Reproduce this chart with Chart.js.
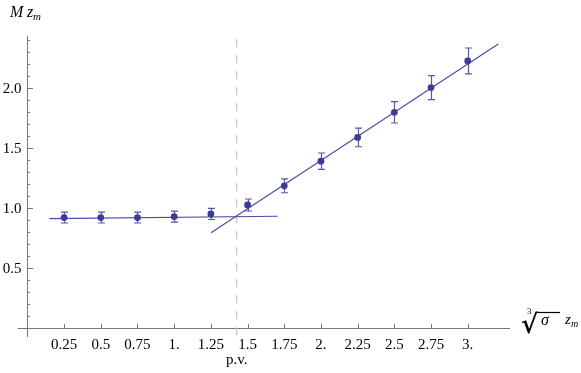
<!DOCTYPE html>
<html>
<head>
<meta charset="utf-8">
<script src="https://cdn.jsdelivr.net/npm/chart.js@4.4.1/dist/chart.umd.min.js"></script>
<style>
html,body{margin:0;padding:0;background:#fff;}
canvas{display:block;}
</style>
</head>
<body>
<canvas id="c" width="581" height="373"></canvas>
<script>
// ---- data ----
const xValues = [0.25, 0.5, 0.75, 1.0, 1.25, 1.5, 1.75, 2.0, 2.25, 2.5, 2.75, 3.0];
const yValues = [0.92, 0.92, 0.92, 0.928, 0.95, 1.025, 1.185, 1.39, 1.588, 1.797, 2.003, 2.225];
const yErrors = [0.045, 0.045, 0.045, 0.046, 0.046, 0.05, 0.058, 0.068, 0.078, 0.089, 0.1, 0.108];
const flatFitX = [0.15, 1.706];
const flatFitY = [0.911, 0.931];
const slopeFitX = [1.251, 3.208];
const slopeFitY = [0.794, 2.367];
const pvX = 1.426;
const pvY = [-0.06, 2.44];
const xTicks = [0.25, 0.5, 0.75, 1.0, 1.25, 1.5, 1.75, 2.0, 2.25, 2.5, 2.75, 3.0];
const xTickLabels = ["0.25", "0.5", "0.75", "1.", "1.25", "1.5", "1.75", "2.", "2.25", "2.5", "2.75", "3."];
const yTicks = [0.5, 1.0, 1.5, 2.0];
const yTickLabels = ["0.5", "1.0", "1.5", "2.0"];
const yMinorTicks = [0.1, 0.2, 0.3, 0.4, 0.6, 0.7, 0.8, 0.9, 1.1, 1.2, 1.3, 1.4, 1.6, 1.7, 1.8, 1.9, 2.1, 2.2, 2.3, 2.4];
const pvLabel = "p.v.";

const pointColor = '#3c3c98';
const lineColor = '#4b4ba8';
const axisColor = '#777777';

const pts = xValues.map((x, i) => ({x: x, y: yValues[i]}));

const axesPlugin = {
  id: 'mmaAxes',
  beforeDatasetsDraw(chart) {
    const ctx = chart.ctx;
    const xs = chart.scales.x, ys = chart.scales.y;
    const x0 = xs.getPixelForValue(0), y0 = ys.getPixelForValue(0);
    ctx.save();
    ctx.strokeStyle = axisColor;
    ctx.lineWidth = 1;
    // axes
    ctx.beginPath();
    ctx.moveTo(xs.left, Math.round(y0) + 0.5);
    ctx.lineTo(xs.right, Math.round(y0) + 0.5);
    ctx.moveTo(Math.round(x0) + 0.5, ys.bottom);
    ctx.lineTo(Math.round(x0) + 0.5, ys.top);
    ctx.stroke();
    // x ticks (inward, upward)
    ctx.beginPath();
    xTicks.forEach(v => {
      const px = Math.round(xs.getPixelForValue(v)) + 0.5;
      ctx.moveTo(px, Math.round(y0));
      ctx.lineTo(px, Math.round(y0) - 4);
    });
    // y ticks
    yTicks.forEach(v => {
      const py = Math.round(ys.getPixelForValue(v)) + 0.5;
      ctx.moveTo(Math.round(x0), py);
      ctx.lineTo(Math.round(x0) + 6, py);
    });
    yMinorTicks.forEach(v => {
      const py = Math.round(ys.getPixelForValue(v)) + 0.5;
      ctx.moveTo(Math.round(x0), py);
      ctx.lineTo(Math.round(x0) + 3, py);
    });
    ctx.stroke();
    // tick labels
    ctx.fillStyle = '#000';
    ctx.font = '15px "Liberation Serif", "Times New Roman", serif';
    ctx.textAlign = 'center';
    ctx.textBaseline = 'middle';
    xTicks.forEach((v, i) => {
      ctx.fillText(xTickLabels[i], xs.getPixelForValue(v), y0 + 17);
    });
    ctx.textAlign = 'right';
    yTicks.forEach((v, i) => {
      ctx.fillText(yTickLabels[i], x0 - 6, ys.getPixelForValue(v) + 1);
    });
    ctx.textAlign = 'center';
    ctx.fillText(pvLabel, xs.getPixelForValue(pvX), y0 + 32);
    // y axis title: M z_m
    ctx.textAlign = 'left';
    ctx.textBaseline = 'alphabetic';
    ctx.font = 'italic 16px "Liberation Serif", serif';
    ctx.fillText('M', 10, 17);
    ctx.fillText('z', 27, 17);
    ctx.font = 'italic 11px "Liberation Serif", serif';
    ctx.fillText('m', 33, 20);
    // x axis title: cube root sigma z_m
    ctx.font = '9px "Liberation Serif", serif';
    ctx.fillText('3', 527, 314);
    ctx.font = 'bold 26px "DejaVu Serif", serif';
    ctx.fillText('\u221A', 521, 333);
    ctx.strokeStyle = '#000';
    ctx.lineWidth = 1.2;
    ctx.beginPath();
    ctx.moveTo(536, 312.5);
    ctx.lineTo(560, 312.5);
    ctx.stroke();
    ctx.font = 'italic 16px "Liberation Serif", serif';
    ctx.fillText('\u03C3', 541, 325);
    ctx.font = 'italic 15px "Liberation Serif", serif';
    ctx.fillText('z', 565, 324);
    ctx.font = 'italic 10px "Liberation Serif", serif';
    ctx.fillText('m', 571, 327);
    // error bars
    ctx.strokeStyle = '#5656aa';
    ctx.lineWidth = 1.2;
    ctx.beginPath();
    xValues.forEach((x, i) => {
      const px = Math.round(xs.getPixelForValue(x)) + 0.5;
      const pt = ys.getPixelForValue(yValues[i] + yErrors[i]);
      const pb = ys.getPixelForValue(yValues[i] - yErrors[i]);
      ctx.moveTo(px, pt); ctx.lineTo(px, pb);
      ctx.moveTo(px - 3.5, pt); ctx.lineTo(px + 3.5, pt);
      ctx.moveTo(px - 3.5, pb); ctx.lineTo(px + 3.5, pb);
    });
    ctx.stroke();
    ctx.restore();
  }
};

new Chart(document.getElementById('c'), {
  type: 'scatter',
  data: {
    datasets: [
      {
        label: 'data',
        data: pts,
        pointRadius: 3.4,
        pointBackgroundColor: pointColor,
        pointBorderColor: pointColor,
        pointBorderWidth: 0,
        showLine: false
      },
      {
        label: 'flat fit',
        data: flatFitX.map((x, i) => ({x: x, y: flatFitY[i]})),
        showLine: true,
        borderColor: lineColor,
        borderWidth: 1.2,
        pointRadius: 0
      },
      {
        label: 'linear fit',
        data: slopeFitX.map((x, i) => ({x: x, y: slopeFitY[i]})),
        showLine: true,
        borderColor: lineColor,
        borderWidth: 1.2,
        pointRadius: 0
      },
      {
        label: 'p.v.',
        data: pvY.map(y => ({x: pvX, y: y})),
        showLine: true,
        borderColor: '#c4c4c4',
        borderWidth: 1.2,
        borderDash: [8, 8],
        pointRadius: 0
      }
    ]
  },
  options: {
    responsive: false,
    animation: false,
    devicePixelRatio: 1,
    layout: {padding: {left: 17.7, right: 71, top: 36, bottom: 36}},
    plugins: {legend: {display: false}, tooltip: {enabled: false}},
    scales: {
      x: {type: 'linear', min: -0.066, max: 3.288, display: false},
      y: {type: 'linear', min: -0.075, max: 2.433, display: false}
    }
  },
  plugins: [axesPlugin]
});
</script>
</body>
</html>
